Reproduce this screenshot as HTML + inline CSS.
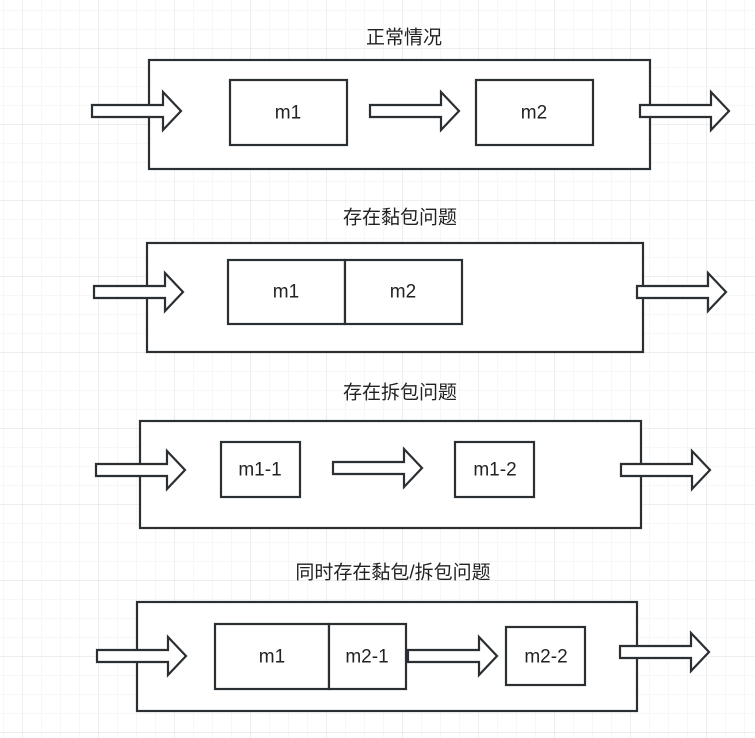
<!DOCTYPE html>
<html><head><meta charset="utf-8"><style>
html,body{margin:0;padding:0;background:#fff}
svg{display:block}
text{font-family:"Liberation Sans","Noto Sans CJK SC",sans-serif;font-size:19px;fill:#222;text-anchor:middle;dominant-baseline:central}
</style></head><body>
<svg width="755" height="738" xmlns="http://www.w3.org/2000/svg">
<defs>
<pattern id="g" x="3" y="10" width="19" height="19" patternUnits="userSpaceOnUse"><path d="M0 0H19M0 0V19" stroke="#efefef" stroke-width="1" fill="none"/></pattern>
<pattern id="G" x="22" y="48" width="76" height="76" patternUnits="userSpaceOnUse"><path d="M0 0H76M0 0V76" stroke="#e4e4e4" stroke-width="1.3" fill="none"/></pattern>
<path id="a" d="M0 -6H71V-19L89 0L71 19V6H0Z" fill="#fff" stroke="#2a2f33" stroke-width="2.2" stroke-linejoin="miter"/>
</defs>
<rect width="755" height="738" fill="url(#g)"/>
<rect width="755" height="738" fill="url(#G)"/>
<g fill="#fff" stroke="#2a2f33" stroke-width="2.2">
<rect x="149" y="60" width="501" height="109"/>
<rect x="230" y="80" width="117" height="65"/>
<rect x="476" y="80" width="117" height="65"/>
<rect x="147" y="243" width="496" height="109"/>
<rect x="228" y="260" width="117" height="64"/>
<rect x="345" y="260" width="117" height="64"/>
<rect x="140" y="421" width="501" height="107"/>
<rect x="221" y="442" width="79" height="55"/>
<rect x="455" y="442" width="79" height="55"/>
<rect x="137" y="602" width="500" height="109"/>
<rect x="215" y="624" width="114" height="65"/>
<rect x="329" y="624" width="77" height="65"/>
<rect x="506" y="627" width="79" height="58"/>
</g>
<use href="#a" x="92" y="111"/><use href="#a" x="370" y="111"/><use href="#a" x="640" y="111"/>
<use href="#a" x="94" y="292"/><use href="#a" x="637" y="292"/>
<use href="#a" x="96" y="470"/><use href="#a" x="333" y="468"/><use href="#a" x="621" y="470"/>
<use href="#a" x="97" y="656"/><use href="#a" x="408" y="656"/><use href="#a" x="620" y="652"/>
<text x="404" y="38">正常情况</text>
<text x="288" y="113">m1</text><text x="534" y="113">m2</text>
<text x="400" y="218">存在黏包问题</text>
<text x="286" y="292">m1</text><text x="403" y="292">m2</text>
<text x="400" y="393">存在拆包问题</text>
<text x="260" y="470">m1-1</text><text x="495" y="470">m1-2</text>
<text x="393" y="573">同时存在黏包/拆包问题</text>
<text x="272" y="657">m1</text><text x="367" y="657">m2-1</text><text x="546" y="657">m2-2</text>
</svg>
</body></html>
